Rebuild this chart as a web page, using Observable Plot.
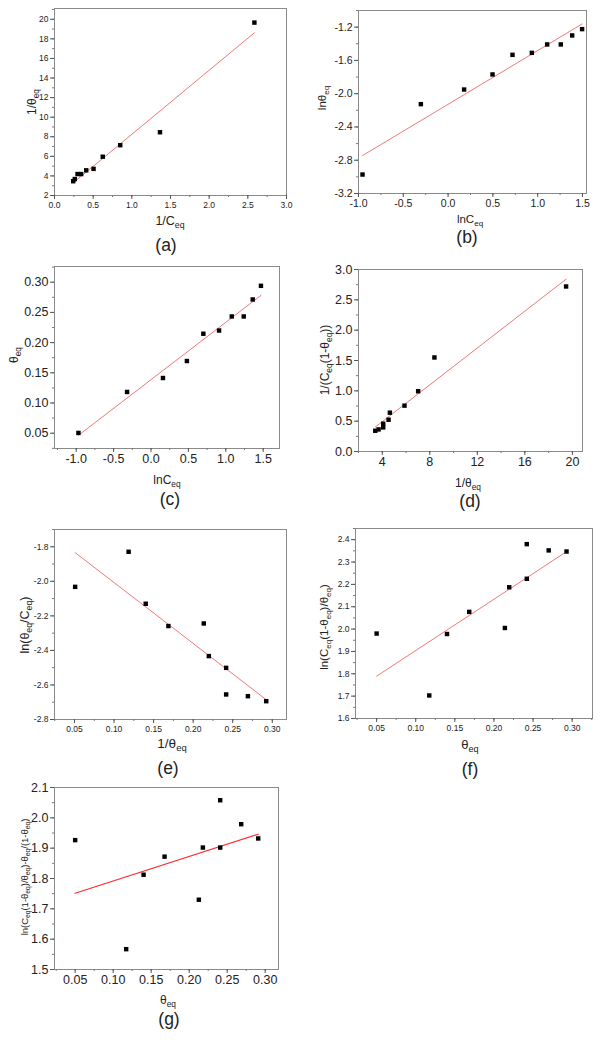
<!DOCTYPE html>
<html>
<head>
<meta charset="utf-8">
<script src="https://cdn.jsdelivr.net/npm/d3@7"></script>
<script src="https://cdn.jsdelivr.net/npm/@observablehq/plot@0.6"></script>
<style>
  html, body { margin: 0; padding: 0; background: #fff; }
  #root { position: relative; width: 601px; height: 1043px; overflow: hidden; font-family: "Liberation Sans", Arial, sans-serif; color: #222; }
  #root svg { position: absolute; overflow: visible; background: transparent; }
  .lbl { position: absolute; white-space: nowrap; line-height: 1; transform: translate(-50%, -50%); }
  .lbl.rot { transform: translate(-50%, -50%) rotate(-90deg); }
  .sub { font-size: 0.7em; position: relative; top: 0.35em; }
</style>
</head>
<body>
<div id="root"></div>
<script>
// ---------- data ----------
// (a) 1/theta_eq vs 1/C_eq
const aInvC     = [0.242, 0.262, 0.298, 0.345, 0.41, 0.505, 0.624, 0.85, 1.364, 2.585];
const aInvTheta = [3.46, 3.68, 4.19, 4.19, 4.57, 4.72, 5.96, 7.14, 8.46, 19.66];
const aXTicks = [0, 0.5, 1, 1.5, 2, 2.5, 3];
const aYTicks = [2, 4, 6, 8, 10, 12, 14, 16, 18, 20];

// (b) ln theta_eq vs ln C_eq
const bLnC     = [-0.955, -0.304, 0.179, 0.496, 0.719, 0.935, 1.106, 1.258, 1.385, 1.496];
const bLnTheta = [-2.972, -2.126, -1.95, -1.769, -1.533, -1.509, -1.408, -1.408, -1.300, -1.224];
const bXTicks = [-1, -0.5, 0, 0.5, 1, 1.5];
const bYTicks = [-3.2, -2.8, -2.4, -2.0, -1.6, -1.2];

// (c) theta_eq vs ln C_eq
const cLnC  = [-0.97, -0.32, 0.16, 0.48, 0.70, 0.91, 1.08, 1.24, 1.36, 1.47];
const cTheta = [0.0505, 0.1183, 0.1414, 0.1695, 0.2147, 0.220, 0.2433, 0.2433, 0.2714, 0.294];
const cXTicks = [-1, -0.5, 0, 0.5, 1, 1.5];
const cYTicks = [0.05, 0.10, 0.15, 0.20, 0.25, 0.30];

// (d) 1/(C_eq(1-theta_eq)) vs 1/theta_eq
const dInvTheta = [3.41, 3.69, 4.08, 4.08, 4.53, 4.64, 5.87, 7.02, 8.39, 19.47];
const dInvC1    = [0.342, 0.364, 0.397, 0.458, 0.524, 0.64, 0.756, 0.993, 1.55, 2.72];
const dXTicks = [4, 8, 12, 16, 20];
const dYTicks = [0, 0.5, 1.0, 1.5, 2.0, 2.5, 3.0];

// (e) ln(theta_eq/C_eq) vs theta_eq
const eTheta = [0.0508, 0.1184, 0.140, 0.1687, 0.2134, 0.2198, 0.2417, 0.2417, 0.2692, 0.2924];
const eLn    = [-2.032, -1.829, -2.130, -2.259, -2.244, -2.433, -2.501, -2.655, -2.665, -2.694];
const eXTicks = [0.05, 0.10, 0.15, 0.20, 0.25, 0.30];
const eYTicks = [-2.8, -2.6, -2.4, -2.2, -2.0, -1.8];

// (f) ln(C_eq(1-theta_eq)/theta_eq) vs theta_eq
const fTheta = [0.05, 0.1173, 0.140, 0.1684, 0.214, 0.2195, 0.242, 0.242, 0.270, 0.2928];
const fLn    = [1.98, 1.703, 1.978, 2.077, 2.005, 2.187, 2.380, 2.225, 2.352, 2.347];
const fXTicks = [0.05, 0.10, 0.15, 0.20, 0.25, 0.30];
const fYTicks = [1.6, 1.7, 1.8, 1.9, 2.0, 2.1, 2.2, 2.3, 2.4];

// (g) ln(C_eq(1-theta_eq)/theta_eq)-theta_eq/(1-theta_eq) vs theta_eq
const gTheta = [0.05, 0.1171, 0.140, 0.1676, 0.2127, 0.218, 0.2408, 0.2408, 0.2684, 0.2908];
const gVal   = [1.9265, 1.567, 1.8125, 1.872, 1.730, 1.902, 2.058, 1.902, 1.979, 1.932];
const gXTicks = [0.05, 0.10, 0.15, 0.20, 0.25, 0.30];
const gYTicks = [1.5, 1.6, 1.7, 1.8, 1.9, 2.0, 2.1];

// ---------- drawing ----------
const root = document.getElementById("root");
const ML = 45, MR = 12, MT = 12, MB = 28;

function minors(ticks, domain) {
  const step = (ticks[1] - ticks[0]) / 2;
  const out = [];
  for (let v = ticks[0] - step; v <= domain[1] + 1e-9; v += step) {
    if (v >= domain[0] - 1e-9) out.push(+v.toFixed(6));
  }
  return out;
}

function panel(cfg) {
  const data = cfg.xs.map((x, i) => ({x, y: cfg.ys[i]}));
  const svg = Plot.plot({
    width: cfg.w + ML + MR,
    height: cfg.h + MT + MB,
    marginLeft: ML, marginRight: MR, marginTop: MT, marginBottom: MB,
    x: {domain: cfg.xDomain},
    y: {domain: cfg.yDomain},
    style: {fontSize: cfg.fs + "px", fontFamily: '"Liberation Sans", Arial, sans-serif', color: "#222", background: "transparent"},
    marks: [
      Plot.frame({stroke: "#8a8a8a", strokeWidth: 1}),
      Plot.axisX({ticks: minors(cfg.xTicks, cfg.xDomain), tickSize: 2, tickFormat: () => "", label: null, stroke: "#777"}),
      Plot.axisY({ticks: minors(cfg.yTicks, cfg.yDomain), tickSize: 2, tickFormat: () => "", label: null, stroke: "#777"}),
      Plot.axisX({ticks: cfg.xTicks, tickSize: 4, tickPadding: 2, tickFormat: cfg.xFmt, label: null, stroke: "#555"}),
      Plot.axisY({ticks: cfg.yTicks, tickSize: 4, tickPadding: 2, tickFormat: cfg.yFmt, label: null, stroke: "#555"}),
      Plot.linearRegressionY(data, {x: "x", y: "y", stroke: cfg.line, strokeWidth: cfg.lw || 1, ci: 0}),
      Plot.dot(data, {x: "x", y: "y", symbol: "square", r: 2.5, fill: "#000"})
    ]
  });
  svg.style.left = (cfg.left - ML) + "px";
  svg.style.top = (cfg.top - MT) + "px";
  root.appendChild(svg);
}

function label(html, cx, cy, size, rot) {
  const d = document.createElement("div");
  d.className = "lbl" + (rot ? " rot" : "");
  d.style.left = cx + "px";
  d.style.top = cy + "px";
  d.style.fontSize = size + "px";
  d.innerHTML = html;
  root.appendChild(d);
}

const f0 = d => d.toFixed(0), f1 = d => d.toFixed(1), f2 = d => d.toFixed(2);
const pink = "#ef7878";

panel({left: 54, top: 8, w: 232, h: 187, xs: aInvC, ys: aInvTheta, xDomain: [0, 3], yDomain: [2, 21.1],
  xTicks: aXTicks, yTicks: aYTicks, xFmt: f1, yFmt: f0, fs: 8.5, line: pink});
panel({left: 358, top: 10, w: 228, h: 183, xs: bLnC, ys: bLnTheta, xDomain: [-1, 1.545], yDomain: [-3.2, -1.0],
  xTicks: bXTicks, yTicks: bYTicks, xFmt: f1, yFmt: f1, fs: 10.5, line: pink});
panel({left: 54, top: 266, w: 225, h: 182, xs: cLnC, ys: cTheta, xDomain: [-1.29, 1.718], yDomain: [0.0247, 0.326],
  xTicks: cXTicks, yTicks: cYTicks, xFmt: f1, yFmt: f2, fs: 12.5, line: pink});
panel({left: 358, top: 269, w: 224, h: 182, xs: dInvTheta, ys: dInvC1, xDomain: [2, 20.85], yDomain: [0, 3],
  xTicks: dXTicks, yTicks: dYTicks, xFmt: f0, yFmt: f1, fs: 12.5, line: pink});
panel({left: 54, top: 529, w: 232, h: 190, xs: eTheta, ys: eLn, xDomain: [0.0247, 0.318], yDomain: [-2.8, -1.7],
  xTicks: eXTicks, yTicks: eYTicks, xFmt: f2, yFmt: f1, fs: 8.5, line: pink});
panel({left: 355, top: 528, w: 237, h: 190, xs: fTheta, ys: fLn, xDomain: [0.023, 0.326], yDomain: [1.6, 2.45],
  xTicks: fXTicks, yTicks: fYTicks, xFmt: f2, yFmt: f1, fs: 8.5, line: pink});
panel({left: 54, top: 787, w: 224, h: 182, xs: gTheta, ys: gVal, xDomain: [0.0228, 0.3175], yDomain: [1.5, 2.1],
  xTicks: gXTicks, yTicks: gYTicks, xFmt: f2, yFmt: f1, fs: 12.5, line: "#ff2b2b", lw: 1.2});

const S = t => '<span class="sub">' + t + '</span>';
// x-axis titles
label("1/C" + S("eq"), 170, 221, 12.5);
label("lnC" + S("eq"), 470, 220, 11.5);
label("lnC" + S("eq"), 167, 480, 12);
label("1/θ" + S("eq"), 468, 483, 12);
label("1/θ" + S("eq"), 172, 744, 13.5);
label("θ" + S("eq"), 470, 745, 13);
label("θ" + S("eq"), 168, 1000, 12);
// y-axis titles
label("1/θ" + S("eq"), 32, 102, 12, true);
label("lnθ" + S("eq"), 323, 98, 11.5, true);
label("θ" + S("eq"), 14, 355, 12, true);
label("1/(C" + S("eq") + "(1-θ" + S("eq") + "))", 325, 360, 12, true);
label("ln(θ" + S("eq") + "/C" + S("eq") + ")", 25, 625, 12.5, true);
label("ln(C" + S("eq") + "(1-θ" + S("eq") + ")/θ" + S("eq") + ")", 325, 627, 11.5, true);
label("ln(C" + S("eq") + "(1-θ" + S("eq") + ")/θ" + S("eq") + ")-θ" + S("eq") + "/(1-θ" + S("eq") + ")", 25, 877, 9.5, true);
// panel captions
label("(a)", 166, 246, 17.5);
label("(b)", 467, 238, 17.5);
label("(c)", 170, 500, 17.5);
label("(d)", 470, 502, 17.5);
label("(e)", 168, 769, 17.5);
label("(f)", 470, 770, 17.5);
label("(g)", 169, 1020, 17.5);
</script>
</body>
</html>
